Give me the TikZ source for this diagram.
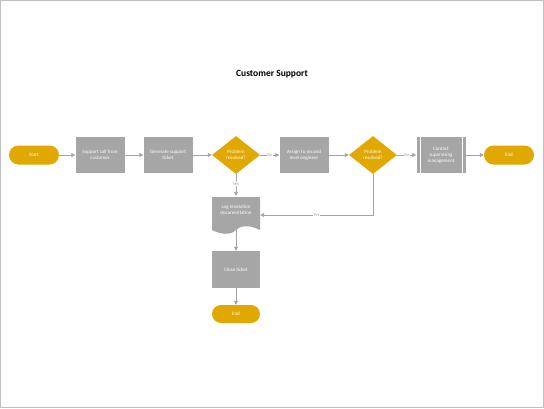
\documentclass[tikz,border=0pt]{standalone}
\usepackage{fontspec}
\setmainfont{Carlito}
\usetikzlibrary{shapes.geometric,arrows.meta}
\definecolor{boxg}{RGB}{166,166,166}
\definecolor{gold}{RGB}{224,168,0}
\definecolor{lineg}{RGB}{165,165,165}
\begin{document}
\begin{tikzpicture}[x=1pt,y=-1pt,
  every node/.style={font=\fontsize{5}{6}\selectfont,text=white,align=center},
  proc/.style={draw=none,fill=boxg,minimum width=49pt,minimum height=36pt,inner sep=1pt},
  term/.style={fill=gold,rounded corners=9.5pt,minimum width=50pt,minimum height=19pt},
  dec/.style={diamond,fill=gold,minimum width=48pt,minimum height=38pt,aspect=1.3,inner sep=0pt},
  con/.style={draw=lineg,line width=0.8pt,-{Triangle[length=4pt,width=4pt]}},
  lab/.style={text=lineg,fill=white,inner sep=0.5pt,font=\fontsize{4.5}{5}\selectfont}]
\draw[draw=lineg!70,line width=0.5pt,fill=white] (0.5,0.5) rectangle (543.5,407.5);
\useasboundingbox (0,0) rectangle (544,408);
\node[text=black,font=\fontsize{9.5}{11}\bfseries\selectfont] (title) at (272,74) {Customer Support};
\node[term] (start) at (34,155) {Start};
\node[proc] (b1) at (100,155) {Support call from\\customer};
\node[proc] (b2) at (168,155) {Generate support\\ticket};
\node[dec] (d1) at (236,155) {Problem\\resolved?};
\node[proc] (b3) at (304,155) {Assign to second\\level engineer};
\node[dec] (d2) at (373,155) {Problem\\resolved?};
\node[proc] (b4) at (441,155) {Contact\\supervising\\management};
\draw[white,line width=0.4pt] (b4.north west)++(4,0) -- ++(0,36) (b4.north east)++(-4,0) -- ++(0,36);
\node[term] (e1) at (509,155) {End};
\fill[boxg] (212,197) -- (260,197) -- (260,230) .. controls (248,224) and (240,226) .. (236,230) .. controls (230,236) and (220,234) .. (212,230) -- cycle;
\node[minimum width=48pt,minimum height=35pt,inner sep=0pt] (doc) at (236,213.5) {};
\node at (236,210) {Log resolution\\documentation};
\node[proc,minimum width=48pt,minimum height=37pt] (close) at (236,269.5) {Close ticket};
\node[term,minimum width=48pt,minimum height=18pt,rounded corners=9pt] (e2) at (236,314) {End};
\draw[con] (start) -- (b1);
\draw[con] (b1) -- (b2);
\draw[con] (b2) -- (d1);
\draw[con] (d1) -- node[lab]{No} (b3);
\draw[con] (b3) -- (d2);
\draw[con] (d2) -- node[lab]{No} (b4);
\draw[con] (b4) -- (e1);
\draw[con] (d1) -- node[lab,pos=0.45]{Yes} (doc);
\draw[con] (d2.south) -- (373,215) -- node[lab]{Yes} (doc.east |- 0,215);
\draw[con] (236,230) -- (close);
\draw[con] (close) -- (e2);
\end{tikzpicture}
\end{document}
